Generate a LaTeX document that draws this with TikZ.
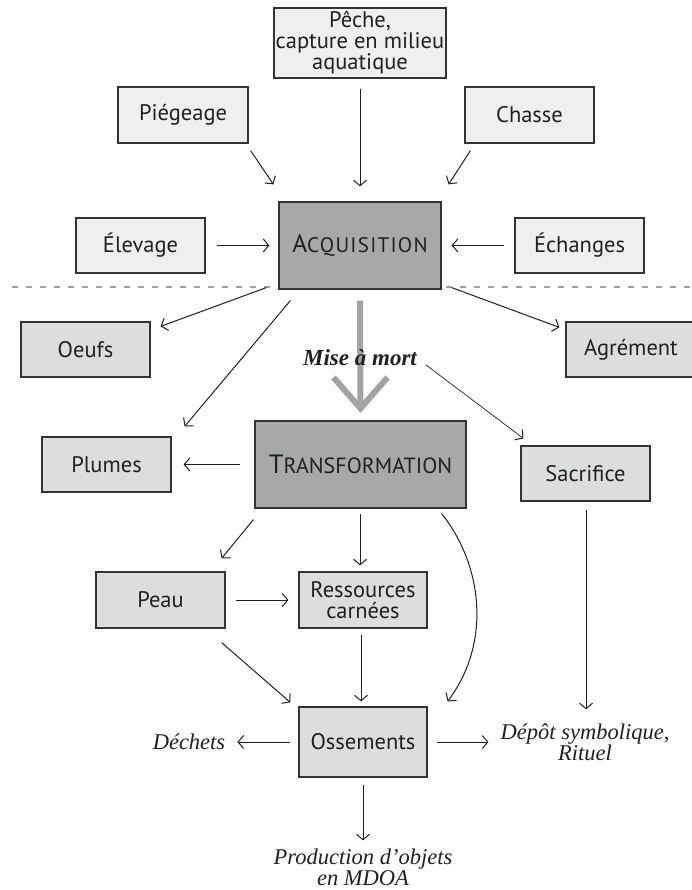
\documentclass[tikz,border=0pt]{standalone}
\usepackage{fontspec}
\setmainfont{PT Sans}
\newfontfamily\serifit{Liberation Serif}
\usetikzlibrary{arrows.meta}
\definecolor{txt}{HTML}{231F20}
\definecolor{lightbox}{HTML}{EFEFEF}
\definecolor{midbox}{HTML}{DCDDDF}
\definecolor{darkbox}{HTML}{A7A8AA}
\definecolor{bigarrow}{HTML}{A3A3A3}
\definecolor{edge}{HTML}{333333}
\newcommand\fakesc[4]{{\fontsize{#3}{#3}\selectfont #1}{\fontsize{#4}{#4}\selectfont #2}}
\tikzset{
  box/.style={draw=edge, line width=1.2pt, text=txt, inner sep=0pt, align=center,
    font=\fontsize{22.5}{21}\selectfont},
  topbox/.style={box, fill=lightbox},
  subbox/.style={box, fill=midbox},
  mainbox/.style={box, fill=darkbox},
  itlabel/.style={text=txt, align=center, inner sep=0pt,
    font=\serifit\itshape\fontsize{22.5}{21}\selectfont},
  conn/.style={draw=txt, line width=1pt, -{Straight Barb[length=5.5pt,width=13pt,line width=1pt]}},
  thinconn/.style={conn, line width=0.7pt}
}
\begin{document}
\begin{tikzpicture}[x=1pt,y=-1pt]
\useasboundingbox (0,0) rectangle (692,890);
% dashed separator
\draw[bigarrow, line width=1.6pt, dash pattern=on 6pt off 8pt] (12,287) -- (692,287);
% top boxes
\node[topbox, minimum width=172pt, minimum height=70pt] (peche) at (360,43) {Pêche,\\capture en milieu\\aquatique};
\node[topbox, minimum width=130pt, minimum height=56pt] (piege) at (183,115) {Piégeage};
\node[topbox, minimum width=129pt, minimum height=56pt] (chasse) at (529.5,115) {Chasse};
\node[mainbox, minimum width=162pt, minimum height=87pt] (acq) at (360,245.5) {\addfontfeature{LetterSpace=6}\fakesc{A}{CQUISITION}{25.5}{21}};
\node[topbox, minimum width=129pt, minimum height=55pt] (elev) at (140.5,245.5) {Élevage};
\node[topbox, minimum width=129pt, minimum height=55pt] (echange) at (579.5,245.5) {Échanges};
% middle
\node[subbox, minimum width=129pt, minimum height=55pt] (oeufs) at (85.5,349.5) {Oeufs};
\node[subbox, minimum width=130pt, minimum height=55pt] (agrement) at (631,349.5) {Agrément};
\node[subbox, minimum width=129pt, minimum height=55pt] (plumes) at (106.5,464.5) {Plumes};
\node[mainbox, minimum width=211pt, minimum height=87pt] (transf) at (360.5,464.5) {\fakesc{T}{RANSFORMATION}{26.5}{22}};
\node[subbox, minimum width=129pt, minimum height=55pt] (sacrif) at (585.5,473.5) {Sacrifice};
\node[subbox, minimum width=129pt, minimum height=56pt] (peau) at (160.5,600) {Peau};
\node[subbox, minimum width=128pt, minimum height=56pt] (res) at (363,600) {Ressources\\carnées};
\node[subbox, minimum width=128pt, minimum height=70pt] (oss) at (363,742) {Ossements};
\node[itlabel] (dechets) at (189,742) {Déchets};
\node[itlabel] (depot) at (585,742) {Dépôt symbolique,\\Rituel};
\node[itlabel] (prod) at (363,867) {Production d’objets\\en MDOA};
% big grey arrow
\coordinate (mtip) at ([shift={(0,-12)}]transf.north);
\draw[bigarrow, line width=6pt] ([shift={(0,11)}]acq.south) -- (mtip);
\draw[bigarrow, line width=6pt, line join=miter] ([shift={(-27,-31)}]mtip) -- (mtip) -- ([shift={(27,-31)}]mtip);
\node[text=txt, inner sep=0pt, font=\serifit\bfseries\itshape\fontsize{23}{23}\selectfont] (mise) at (360,358) {Mise à mort};
% connectors into acquisition
\draw[conn] ([shift={(2,7)}]piege.south east) -- ([shift={(-5,-17)}]acq.north west);
\draw[conn] ([shift={(0,10)}]peche.south) -- ([shift={(0,-15)}]acq.north);
\draw[conn] ([shift={(6,7)}]chasse.south west) -- ([shift={(7,-17)}]acq.north east);
\draw[conn] ([shift={(11,0)}]elev.east) -- ([shift={(-9,0)}]acq.west);
\draw[conn] ([shift={(-10,0)}]echange.west) -- ([shift={(10,0)}]acq.east);
% out of acquisition
\draw[conn] ([shift={(-12,-2)}]acq.south west) -- ([shift={(10,5)}]oeufs.north east);
\draw[conn] ([shift={(10,-2)}]acq.south east) -- ([shift={(-6,6)}]agrement.north west);
\draw[conn] ([shift={(12,11)}]acq.south west) -- ([shift={(13,-10)}]plumes.north east);
\draw[thinconn] ([shift={(9,7)}]mise.east) -- ([shift={(3,-7)}]sacrif.north west);
% out of transformation
\draw[conn] ([shift={(-14,0)}]transf.west) -- ([shift={(12,0)}]plumes.east);
\draw[conn] ([shift={(-1,11)}]transf.south west) -- ([shift={(-4,-13)}]peau.north east);
\draw[conn] ([shift={(-0.5,5)}]transf.south) -- ([shift={(-3,-6)}]res.north);
\draw[conn] ([shift={(-25,5)}]transf.south east) .. controls +(40,50) and +(45,-60) .. ([shift={(20,-5)}]oss.north east);
\draw[conn] ([shift={(0.5,8)}]sacrif.south) -- ([shift={(1,-14)}]depot.north);
% lower
\draw[conn] ([shift={(10,0)}]peau.east) -- ([shift={(-10,0)}]res.west);
\draw[conn] ([shift={(-4,14)}]peau.south east) -- ([shift={(-8,-4)}]oss.north west);
\draw[conn] ([shift={(-2,6)}]res.south) -- ([shift={(-2,-5)}]oss.north);
\draw[conn] ([shift={(-8,0)}]oss.west) -- ([shift={(12,0)}]dechets.east);
\draw[conn] ([shift={(9,0)}]oss.east) -- ([shift={(-12,0)}]depot.west);
\draw[conn] ([shift={(0,7)}]oss.south) -- ([shift={(0,-8)}]prod.north);
\end{tikzpicture}
\end{document}
